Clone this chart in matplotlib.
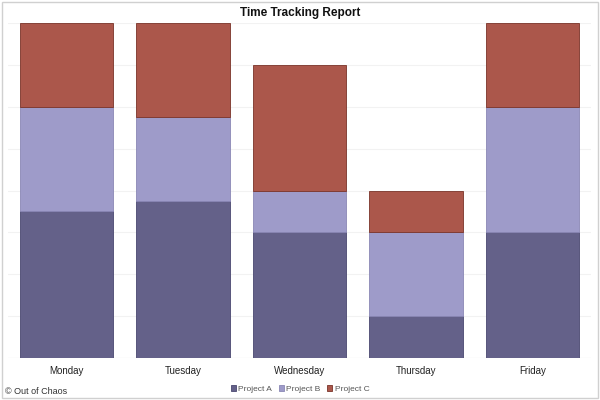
import matplotlib
matplotlib.use("Agg")
import matplotlib.pyplot as plt
from matplotlib.patches import Rectangle
import numpy as np

days = ["Monday", "Tuesday", "Wednesday", "Thursday", "Friday"]
project_a = [3.5, 3.75, 3, 1, 3]
project_b = [2.5, 2, 1, 2, 3]
project_c = [2, 2.25, 3, 1, 2]
names = ["Project A", "Project B", "Project C"]
colors = ["#646189", "#9e9bc9", "#ab574b"]
edges = ["#4a4770", "#8a87b5", "#7a3328"]


def main():
    plt.rcParams['font.family'] = ['Liberation Sans', 'DejaVu Sans']
    fig = plt.figure(figsize=(6, 4), dpi=100)
    ax = fig.add_axes([0.0133, 0.105, 0.9717, 0.8375])

    x = np.arange(len(days))
    bottom = np.zeros(len(days))
    for vals, name, c, e in zip([project_a, project_b, project_c], names, colors, edges):
        ax.bar(x, vals, 0.8, bottom=bottom, color=c, edgecolor=e,
               linewidth=0.6, label=name, zorder=2)
        bottom += np.array(vals)

    ax.set_xlim(-0.5, len(days) - 0.5)
    ax.set_ylim(0, 8)
    ax.set_yticks(range(0, 9))
    ax.yaxis.grid(True, color="#f2f2f2", linewidth=0.8, zorder=0)
    ax.tick_params(axis="y", left=False, labelleft=False)
    ax.tick_params(axis="x", length=0, pad=6)
    ax.set_xticks(x)
    ax.set_xticklabels(days, fontsize=7, color="#222222")
    for s in ax.spines.values():
        s.set_visible(False)
    ax.axhline(0, color="#e6e6e6", linewidth=0.8, zorder=1)

    fig.text(0.5, 0.967, "Time Tracking Report", ha="center", va="center",
             fontsize=8.5, fontweight="bold", color="#111111")
    fig.text(0.008, 0.022, "\u00a9 Out of Chaos", ha="left", va="center",
             fontsize=6.5, color="#333333")

    fig.legend(loc="center", bbox_to_anchor=(0.5, 0.027), ncol=3, frameon=False,
               fontsize=6, handlelength=0.6, handleheight=0.6, handletextpad=0.3,
               columnspacing=0.8, labelcolor="#555555")

    fig.patches.append(Rectangle((0.003, 0.004), 0.994, 0.992, transform=fig.transFigure,
                                 fill=False, edgecolor="#d0d0d0", linewidth=1))

    fig.savefig("out.png", dpi=100)


if __name__ == "__main__":
    main()
